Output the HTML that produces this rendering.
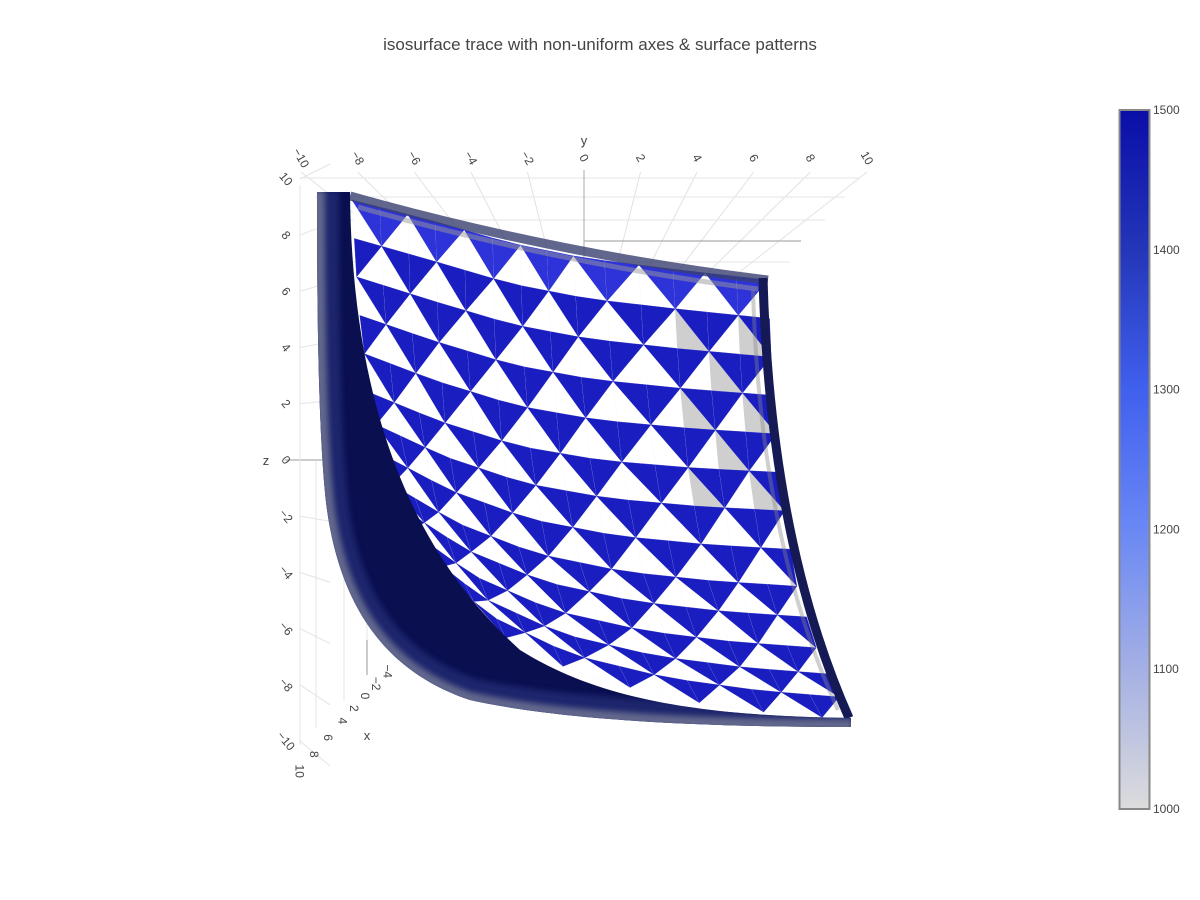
<!DOCTYPE html>
<html><head><meta charset="utf-8"><style>
body{margin:0;background:#fff;width:1200px;height:900px;overflow:hidden;font-family:"Liberation Sans",sans-serif}
svg{display:block}
</style></head><body>
<svg id="chart" width="1200" height="900" viewBox="0 0 1200 900">
<defs>
<linearGradient id="cbar" x1="0" y1="1" x2="0" y2="0">
<stop offset="0" stop-color="#dcdcdc"/><stop offset="0.2" stop-color="#a4b0e4"/><stop offset="0.4" stop-color="#6a88f4"/><stop offset="0.6" stop-color="#4060ee"/><stop offset="0.8" stop-color="#2436b8"/><stop offset="1" stop-color="#0a0ea8"/>
</linearGradient>
<clipPath id="bandClip"><path id="bandPath" d="M317,192 L350,192 C352,420 420,560 520,650 C600,700 700,716 851,718 L851,727 C700,727 560,720 470,700 C380,670 340,600 327,510 C318,440 317,300 317,192 Z"/></clipPath>
<filter id="blur"><feGaussianBlur stdDeviation="3"/></filter>
</defs>
<text x="600" y="50" text-anchor="middle" font-size="17" fill="#444">isosurface trace with non-uniform axes &amp; surface patterns</text>
<g id="grid"></g>
<g id="surf"></g>
<g id="axes"></g>
<g id="cb"></g>
</svg>
<script>
const cbTicks=[1000,1100,1200,1300,1400,1500];
const zTicks=[10,8,6,4,2,0,-2,-4,-6,-8,-10];
const yTicks=[-10,-8,-6,-4,-2,0,2,4,6,8,10];
const xTicks=[-4,-2,0,2,4,6,8,10];
const cbMin=1000,cbMax=1500;
const NS="http://www.w3.org/2000/svg";
function mk(tag,attrs,parent){const e=document.createElementNS(NS,tag);for(const k in attrs)e.setAttribute(k,attrs[k]);parent.appendChild(e);return e;}
const grid=document.getElementById('grid'),axes=document.getElementById('axes'),surf=document.getElementById('surf'),cb=document.getElementById('cb');
const cbTop=110,cbBot=809;
const cbY=v=>cbBot-(v-cbMin)/(cbMax-cbMin)*(cbBot-cbTop);
const cbr=mk('rect',{x:1119.5,y:cbTop,width:30,height:cbBot-cbTop,fill:'url(#cbar)',stroke:'#888','stroke-width':2},cb);


cbTicks.forEach(v=>{const t=mk('text',{x:1153,y:cbY(v)+4,'font-size':12,fill:'#444'},cb);t.textContent=v;

});
const zY=v=>460-v*28.1;
zTicks.forEach(v=>{
 const y=zY(v);
 const l=mk('line',{x1:300,y1:y,x2:330,y2:y+(v>=0?-v*1.5:-v*2.5),stroke:'#e4e4e4','stroke-width':1},grid);
 
 
 const t=mk('text',{x:286,y:y+4,'font-size':12,fill:'#444','text-anchor':'middle',transform:`rotate(50 286 ${y})`},axes);t.textContent=v<0?'\u2212'+(-v):v;
 
 
});
mk('line',{x1:285,y1:460,x2:330,y2:460,stroke:'#999'},grid);
const zl=mk('text',{x:266,y:465,'font-size':13,fill:'#444','text-anchor':'middle'},axes);zl.textContent='z';


mk('line',{x1:300,y1:185,x2:300,y2:745,stroke:'#e4e4e4'},grid);
const yX=v=>584+v*28.3;
yTicks.forEach(v=>{
 const x=yX(v);
 const l=mk('line',{x1:x,y1:172,x2:584+v*12,y2:300,stroke:'#e2e2e2'},grid);
 
 
 const t=mk('text',{x:x,y:162,'font-size':12,fill:'#444','text-anchor':'middle',transform:`rotate(60 ${x} 158)`},axes);t.textContent=v<0?'\u2212'+(-v):v;
 
 
});
const yl=mk('text',{x:584,y:145,'font-size':13,fill:'#444','text-anchor':'middle'},axes);yl.textContent='y';


[[300,178,860],[315,197,845],[330,220,825],[584,241,801],[340,262,790]].forEach(a=>mk('line',{x1:a[0],y1:a[1],x2:a[2],y2:a[1],stroke:a[0]==584?'#999':'#e6e6e6'},grid));
mk('line',{x1:584,y1:170,x2:584,y2:560,stroke:'#aaa'},grid);
const xPos=v=>[365-v*5.6-(v>4?(v-4)*1.6:0),700+v*6.2+(v>4?(v-4)*2.2:0)];
xTicks.forEach(v=>{
 const p=xPos(v);
 const t=mk('text',{x:p[0],y:p[1],'font-size':12,fill:'#444','text-anchor':'middle',transform:`rotate(90 ${p[0]} ${p[1]-4})`},axes);t.textContent=v<0?'\u2212'+(-v):v;
 
 
});
[[300,745],[316,728],[344,700],[367,675]].forEach(a=>mk('line',{x1:a[0],y1:a[1],x2:a[0],y2:460,stroke:'#e4e4e4'},grid));
mk('line',{x1:367,y1:675,x2:367,y2:640,stroke:'#999'},grid);
const xl=mk('text',{x:367,y:740,'font-size':13,fill:'#444','text-anchor':'middle'},axes);xl.textContent='x';


const topC=[[352,200],[430,220],[510,243],[584,258],[680,270],[768,280]];
const botC=[[440,580],[500,635],[580,675],[680,700],[770,713],[851,720]];
const leftC=[[352,200],[358,300],[370,400],[390,480],[415,540],[440,580]];
const rightC=[[768,280],[772,380],[780,480],[795,580],[820,660],[851,720]];
function ev(c,t){const n=c.length-1;let f=t*n,i=Math.min(Math.floor(f),n-1),r=f-i;return[c[i][0]+(c[i+1][0]-c[i][0])*r,c[i][1]+(c[i+1][1]-c[i][1])*r];}
function P(u,v){const T=ev(topC,u),B=ev(botC,u),L=ev(leftC,v),R=ev(rightC,v);
 const c00=topC[0],c10=topC[topC.length-1],c01=botC[0],c11=botC[botC.length-1];
 return[0,1].map(k=>(1-v)*T[k]+v*B[k]+(1-u)*L[k]+u*R[k]-((1-u)*(1-v)*c00[k]+u*(1-v)*c10[k]+(1-u)*v*c01[k]+u*v*c11[k]));}
const NU=14,NV=13;
const bg=mk('g',{},surf);


const pts=q=>q.map(p=>p[0].toFixed(1)+','+p[1].toFixed(1)).join(' ');
for(let i=0;i<NU;i++)for(let j=0;j<NV;j++){
 const a=P(i/NU,j/NV),b=P((i+1)/NU,j/NV),c=P((i+1)/NU,(j+1)/NV),d=P(i/NU,(j+1)/NV);
 const gray=(i>=11&&j>=1&&j<=5&&(i+j)%2==0);
 mk('polygon',{points:pts([a,b,c,d]),fill:gray?'#cfcfcf':'#fff',stroke:gray?'#cfcfcf':'#fafafa','stroke-width':0.5},bg);
 const tri=((i+j)%2==0)?[a,b,c]:[a,b,d];
 const tr=mk('polygon',{points:pts(tri),fill:(j<1?'#2d33d8':'#1a1dc0'),stroke:'#1a1dc0','stroke-width':0.3},bg);
 
 
}
mk('path',{d:'M350,196 Q560,255 768,280',fill:'none',stroke:'#3a4070','stroke-width':9,opacity:0.8},surf);
mk('path',{d:'M358,207 Q560,264 758,289',fill:'none',stroke:'#999','stroke-width':5,opacity:0.5},surf);
mk('path',{d:'M763,278 Q770,540 849,718',fill:'none',stroke:'#151a55','stroke-width':9},surf);
mk('path',{d:'M753,290 Q760,540 838,710',fill:'none',stroke:'#888','stroke-width':4,opacity:0.4},surf);
const band=mk('use',{href:'#bandPath',fill:'#0a0f50'},surf);


const bc=mk('g',{'clip-path':'url(#bandClip)'},surf);
const outer='M319,190 C319,300 320,440 329,510 C342,600 382,668 470,698 C560,718 700,725 853,725';
mk('path',{d:outer,fill:'none',stroke:'#2a3680','stroke-width':40,opacity:0.6,filter:'url(#blur)'},bc);
mk('path',{d:outer,fill:'none',stroke:'#6a7090','stroke-width':12,opacity:0.9,filter:'url(#blur)'},bc);
</script>
</body></html>
